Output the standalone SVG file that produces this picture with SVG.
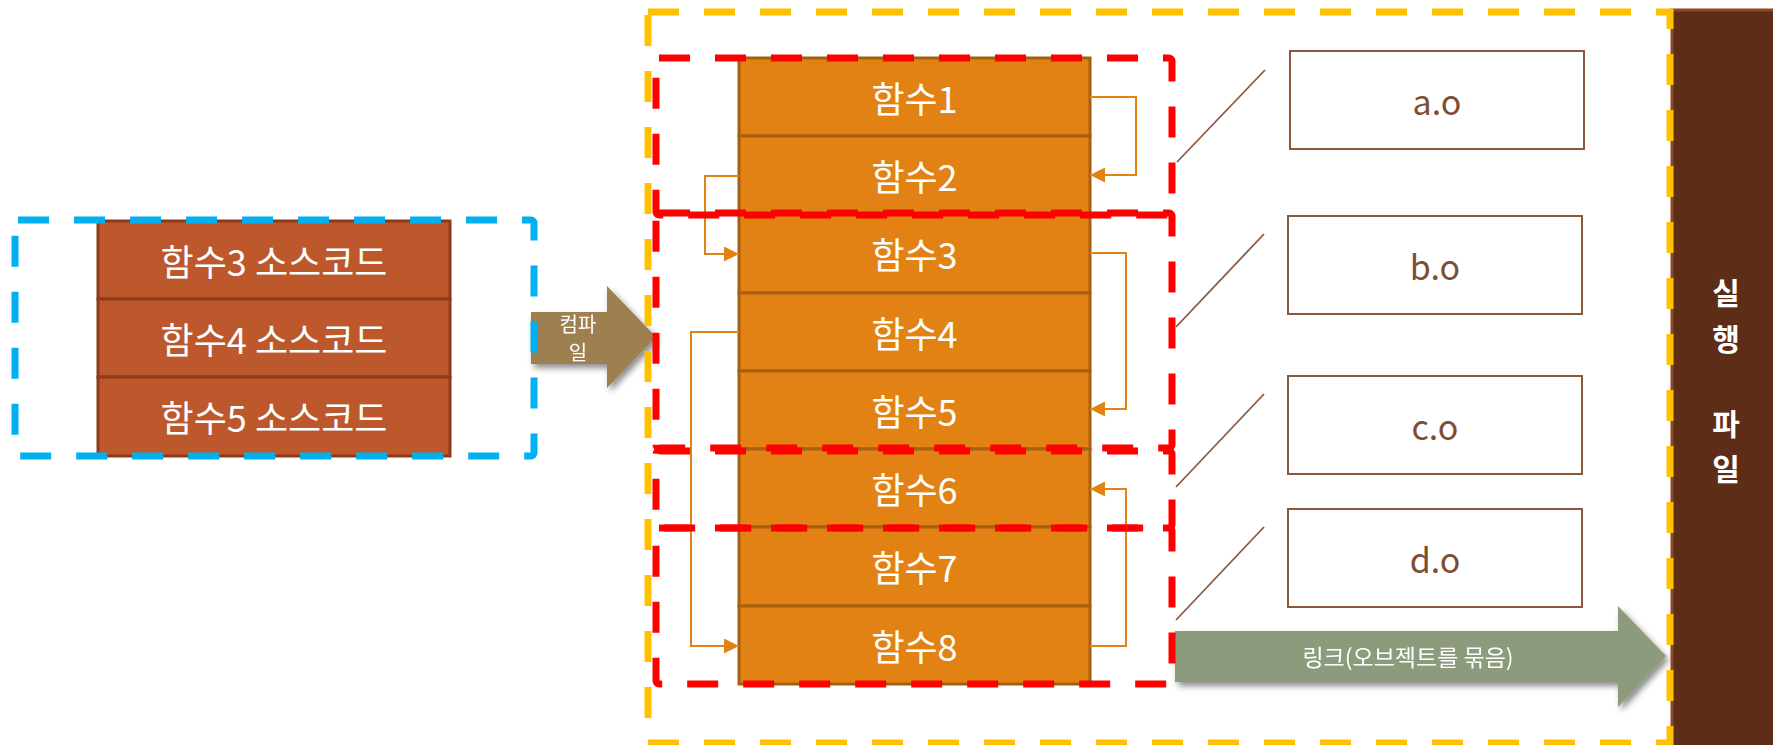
<svg xmlns="http://www.w3.org/2000/svg" width="1773" height="745" viewBox="0 0 1773 745">
<style>
text{font-family:"Noto Sans CJK KR","Noto Sans",sans-serif;}
.fn rect{fill:#E38214;stroke:#A65F0F;stroke-width:3;}
.fn text{fill:#ffffff;font-size:36px;text-anchor:middle;dominant-baseline:central;}
.src rect{fill:#BC582C;stroke:#8E3B1B;stroke-width:3;}
.src text{fill:#ffffff;font-size:36px;text-anchor:middle;dominant-baseline:central;}
.obj rect{fill:#ffffff;stroke:#8A5A3E;stroke-width:2;}
.obj text{fill:#7E4E32;font-size:34px;text-anchor:middle;dominant-baseline:central;}
.dash{fill:none;stroke-width:7;stroke-dasharray:31 25;}
.blue{stroke:#00B0F0;}
.yellow{stroke:#FFC000;}
.red{stroke:#FF0000;}
.call{fill:none;stroke:#E38214;stroke-width:2;marker-end:url(#ah);}
.diag{stroke:#8A5A3E;stroke-width:1.8;}
.exe-t{fill:#fff;font-size:30px;font-weight:bold;text-anchor:middle;dominant-baseline:central;}
</style>
<defs>
<marker id="ah" markerUnits="userSpaceOnUse" markerWidth="15" markerHeight="15" refX="15" refY="7.5" orient="auto">
<path d="M0,0 L15,7.5 L0,15 z" fill="#E38214"/>
</marker>
<filter id="sh" x="-10%" y="-20%" width="130%" height="150%">
<feDropShadow dx="3" dy="4" stdDeviation="3" flood-color="#000" flood-opacity="0.45"/>
</filter>
</defs>

<g id="exe">
<rect x="1672" y="10" width="104" height="740" fill="#5E2D17" stroke="#8A4A22" stroke-width="3"/>
<text class="exe-t" x="1726" y="291">실</text>
<text class="exe-t" x="1726" y="337">행</text>
<text class="exe-t" x="1726" y="422">파</text>
<text class="exe-t" x="1726" y="467">일</text>
</g>

<g id="source" class="src">
<g id="src3"><rect x="98" y="221" width="352" height="78"/><text x="274" y="260">함수3 소스코드</text></g>
<g id="src4"><rect x="98" y="299" width="352" height="78"/><text x="274" y="338">함수4 소스코드</text></g>
<g id="src5"><rect x="98" y="377" width="352" height="79"/><text x="274" y="416">함수5 소스코드</text></g>
</g>

<g id="functions" class="fn">
<g id="fn1"><rect x="739" y="58" width="351" height="78"/><text x="914.5" y="97">함수1</text></g>
<g id="fn2"><rect x="739" y="136" width="351" height="78"/><text x="914.5" y="175">함수2</text></g>
<g id="fn3"><rect x="739" y="214" width="351" height="79"/><text x="914.5" y="253">함수3</text></g>
<g id="fn4"><rect x="739" y="293" width="351" height="78"/><text x="914.5" y="332">함수4</text></g>
<g id="fn5"><rect x="739" y="371" width="351" height="78"/><text x="914.5" y="410">함수5</text></g>
<g id="fn6"><rect x="739" y="449" width="351" height="78"/><text x="914.5" y="488">함수6</text></g>
<g id="fn7"><rect x="739" y="527" width="351" height="79"/><text x="914.5" y="566">함수7</text></g>
<g id="fn8"><rect x="739" y="606" width="351" height="78"/><text x="914.5" y="645">함수8</text></g>
</g>

<g id="objects" class="obj">
<g id="obj-a"><rect x="1290" y="51" width="294" height="98"/><text x="1437" y="100">a.o</text></g>
<g id="obj-b"><rect x="1288" y="216" width="294" height="98"/><text x="1435" y="265">b.o</text></g>
<g id="obj-c"><rect x="1288" y="376" width="294" height="98"/><text x="1435" y="425">c.o</text></g>
<g id="obj-d"><rect x="1288" y="509" width="294" height="98"/><text x="1435" y="558">d.o</text></g>
</g>

<g id="compile" filter="url(#sh)">
<path d="M531,312 H607 V286 L656,337 L607,388 V364 H531 Z" fill="#9E7F4F"/>
<text x="578" y="323" fill="#fff" font-size="20" text-anchor="middle" dominant-baseline="central">컴파</text>
<text x="578" y="351" fill="#fff" font-size="20" text-anchor="middle" dominant-baseline="central">일</text>
</g>

<g id="link" filter="url(#sh)">
<path d="M1175,631 H1618 V606 L1666,656 L1618,707 V682 H1175 Z" fill="#8D9B7D"/>
<text x="1408" y="656" fill="#fff" font-size="23" text-anchor="middle" dominant-baseline="central">링크(오브젝트를 묶음)</text>
</g>

<g id="connectors">
<path class="call" d="M1090,97 H1136 V175 H1090"/>
<path class="call" d="M739,176 H705 V254 H739"/>
<path class="call" d="M1090,253 H1126 V409 H1090"/>
<path class="call" d="M739,332 H691 V646 H739"/>
<path class="call" d="M1090,646 H1126 V489 H1090"/>
<line class="diag" x1="1265" y1="70" x2="1177" y2="162"/>
<line class="diag" x1="1264" y1="234" x2="1176" y2="327"/>
<line class="diag" x1="1264" y1="394" x2="1176" y2="487"/>
<line class="diag" x1="1264" y1="527" x2="1176" y2="620"/>
</g>

<g id="groups">
<rect id="blue-group" class="dash blue" x="15" y="220" width="519" height="236" rx="3"/>
<rect id="yellow-group" class="dash yellow" x="648" y="12" width="1022" height="731"/>
<rect id="red-1" class="dash red" x="656" y="58" width="516" height="157" rx="3"/>
<rect id="red-2" class="dash red" x="656" y="213" width="516" height="235" rx="3"/>
<rect id="red-3" class="dash red" x="656" y="451" width="516" height="77" rx="3"/>
<rect id="red-4" class="dash red" x="656" y="528" width="516" height="156" rx="3"/>
</g>
</svg>
